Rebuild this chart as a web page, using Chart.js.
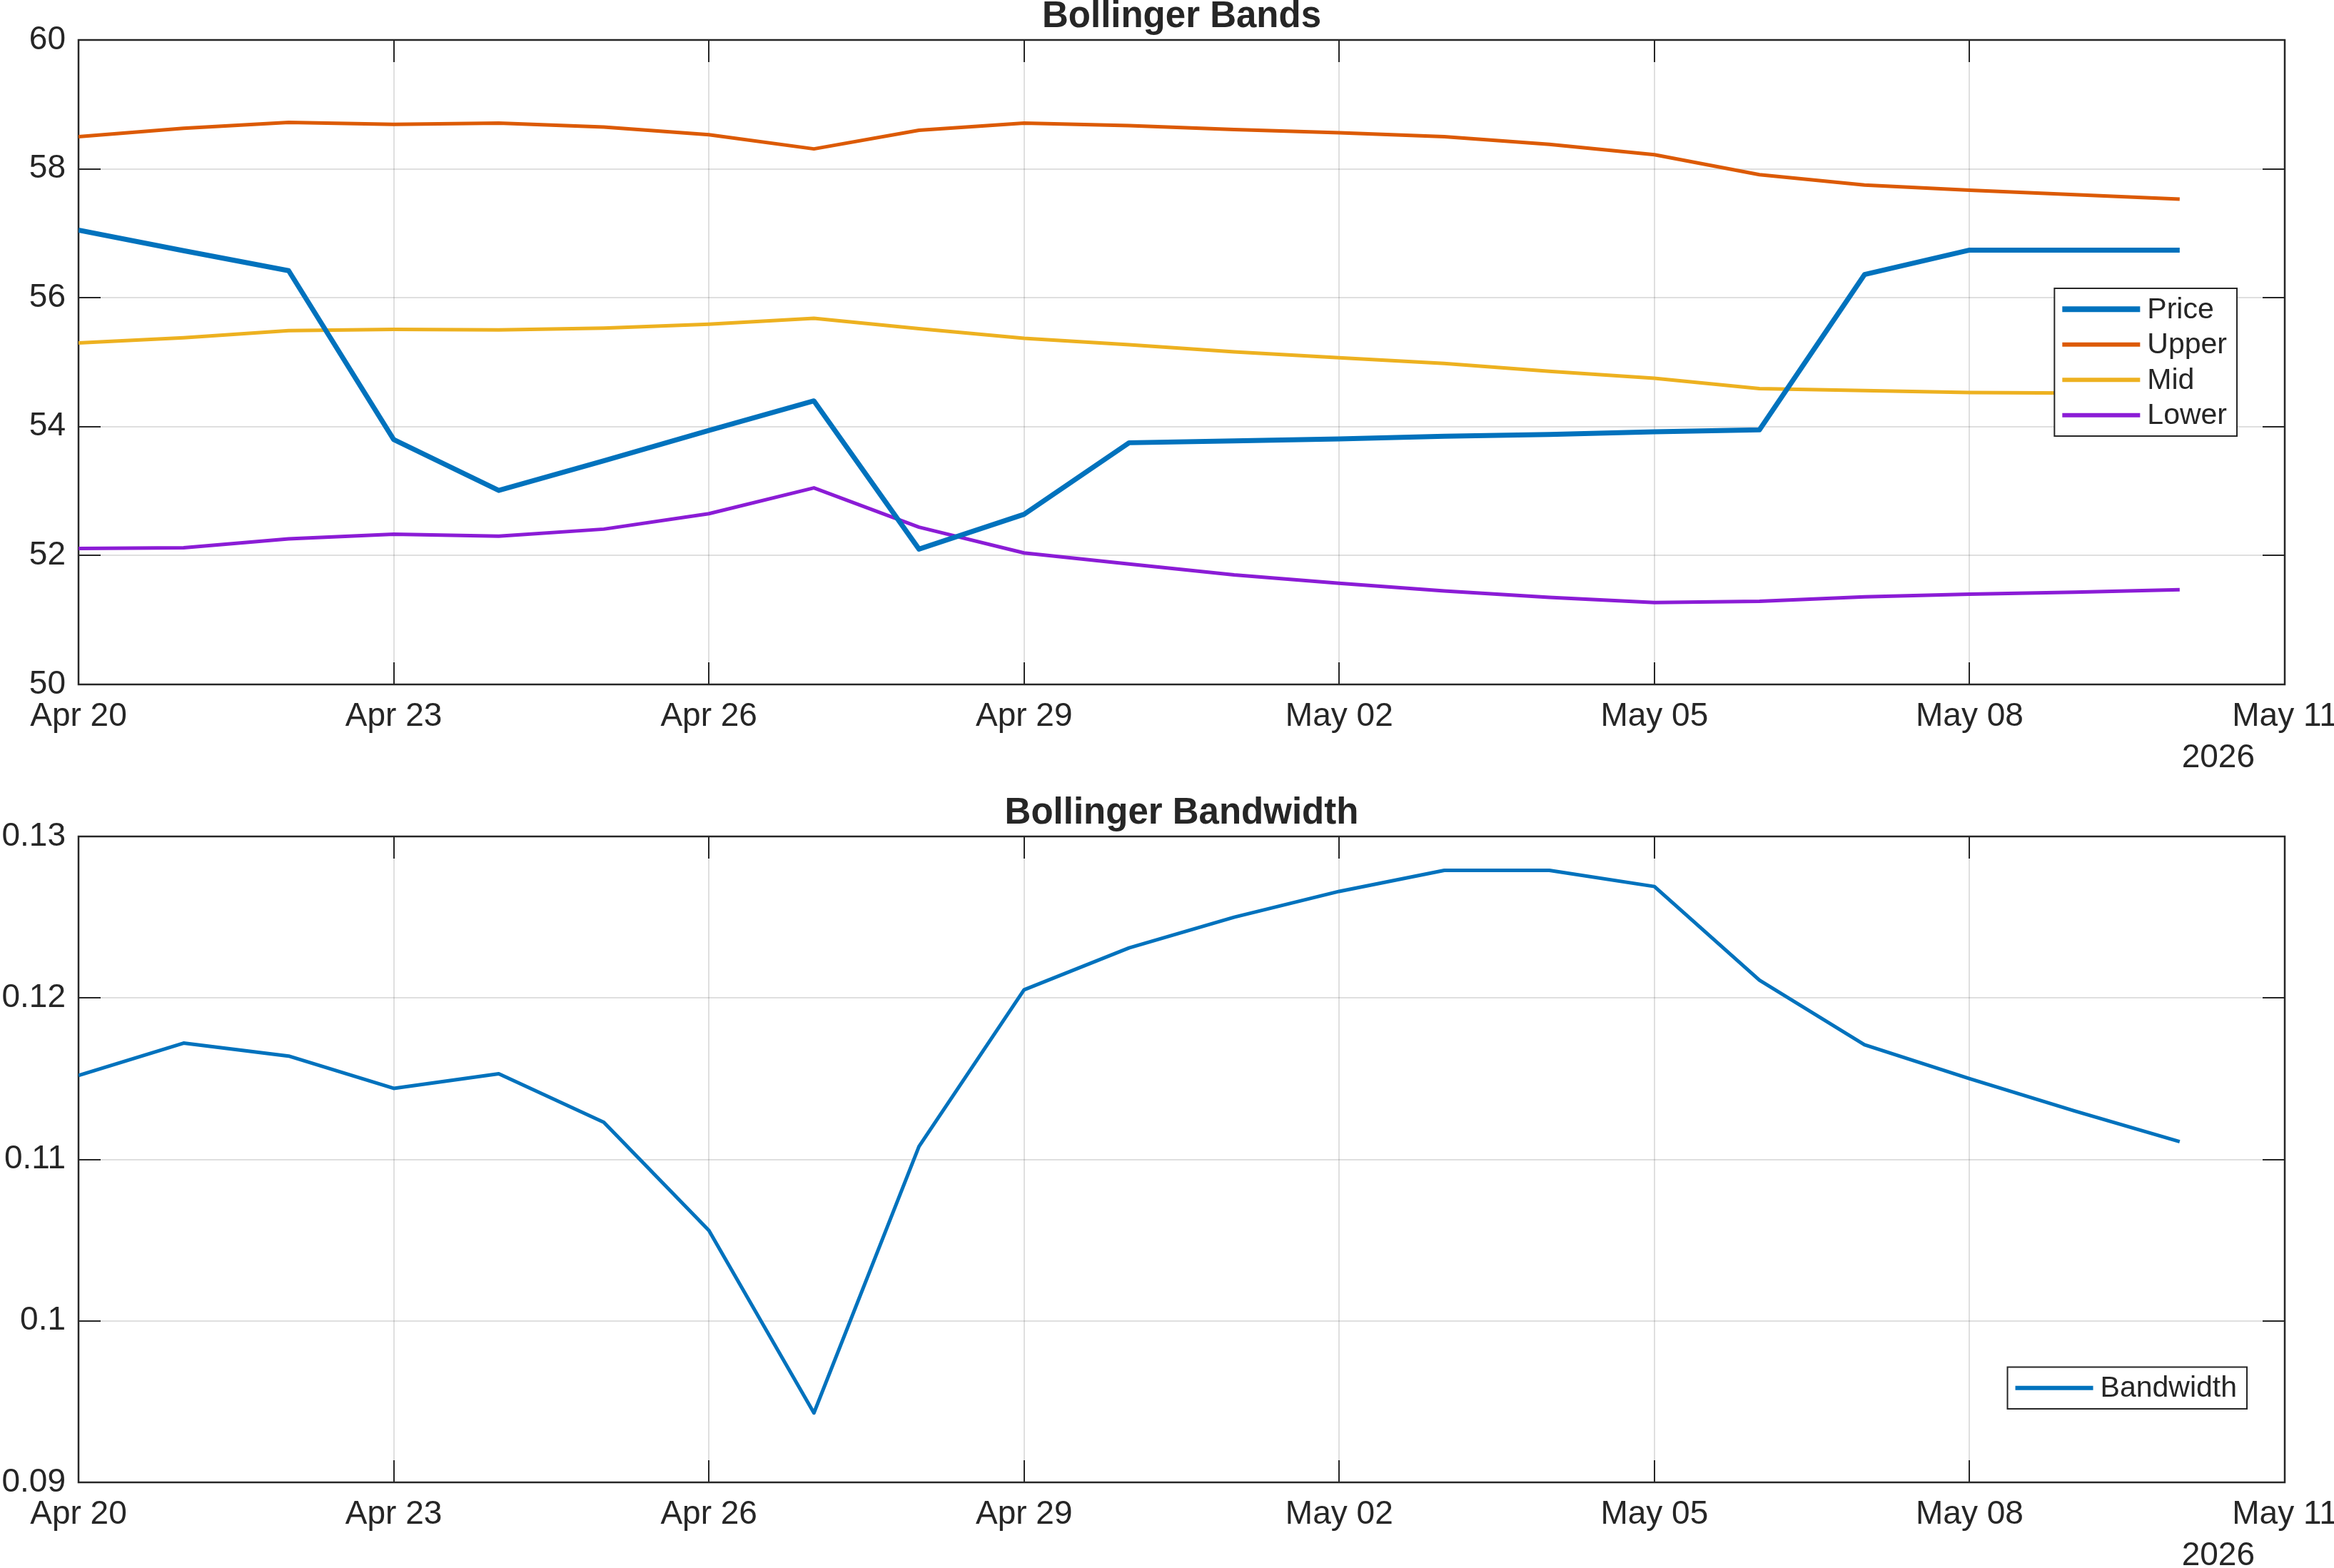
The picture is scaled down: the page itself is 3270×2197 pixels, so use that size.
<!DOCTYPE html>
<html><head><meta charset="utf-8">
<script src="https://cdn.jsdelivr.net/npm/chart.js@4.4.1/dist/chart.umd.min.js"></script>
<style>
html,body{margin:0;padding:0;background:#fff;}
#wrap{position:relative;width:3270px;height:2197px;background:#fff;}
canvas{position:absolute;left:0;display:block;}
</style></head><body>
<div id="wrap">
<canvas id="c1" width="3270" height="1098" style="top:0px"></canvas>
<canvas id="c2" width="3270" height="1099" style="top:1098px"></canvas>
</div>
<script>
// ---------- data ----------
const dates = ['2026-04-20','2026-04-21','2026-04-22','2026-04-23','2026-04-24','2026-04-25','2026-04-26',
  '2026-04-27','2026-04-28','2026-04-29','2026-04-30','2026-05-01','2026-05-02','2026-05-03','2026-05-04',
  '2026-05-05','2026-05-06','2026-05-07','2026-05-08','2026-05-09','2026-05-10'];
const price = [57.05,56.73,56.42,53.80,53.01,53.47,53.94,54.40,52.10,52.64,53.75,53.78,53.81,53.85,53.88,53.92,53.95,56.36,56.74,56.74,56.74];
const upper = [58.50,58.63,58.72,58.69,58.71,58.65,58.53,58.31,58.60,58.71,58.67,58.61,58.56,58.50,58.38,58.22,57.91,57.75,57.67,57.60,57.53];
const mid   = [55.30,55.38,55.49,55.51,55.50,55.53,55.59,55.68,55.52,55.37,55.27,55.16,55.07,54.98,54.86,54.75,54.59,54.56,54.53,54.52,54.50];
const lower = [52.11,52.12,52.26,52.33,52.30,52.41,52.65,53.05,52.44,52.04,51.87,51.70,51.57,51.45,51.35,51.27,51.29,51.36,51.40,51.43,51.47];
const bandwidth = [0.1152,0.1172,0.1164,0.1144,0.1153,0.1123,0.1056,0.0943,0.1108,0.1205,0.1231,0.1250,0.1266,0.1279,0.1279,0.1269,0.1211,0.1171,0.1150,0.1130,0.1111];

const xStart = '2026-04-20';
const xTickDates = ['2026-04-20','2026-04-23','2026-04-26','2026-04-29','2026-05-02','2026-05-05','2026-05-08','2026-05-11'];
const xTickLabels = ['Apr 20','Apr 23','Apr 26','Apr 29','May 02','May 05','May 08','May 11'];
const yearLabel = '2026';
const priceTicks = [50,52,54,56,58,60];
const priceTickLabels = ['50','52','54','56','58','60'];
const bwTicks = [0.09,0.10,0.11,0.12,0.13];
const bwTickLabels = ['0.09','0.1','0.11','0.12','0.13'];

// ---------- helpers ----------
const DAY = 86400000;
const dayOf = d => Math.round((Date.parse(d + 'T00:00:00Z') - Date.parse(xStart + 'T00:00:00Z')) / DAY);
const xTickValues = xTickDates.map(dayOf);
const pts = arr => arr.map((v, i) => ({x: dayOf(dates[i]), y: v}));

const FONT = '"Liberation Sans", Arial, Helvetica, sans-serif';
const TXT = '#262626';
Chart.defaults.font.family = FONT;
Chart.defaults.color = TXT;

const boxPlugin = {
  id: 'bbBox',
  beforeDatasetsDraw(chart) {
    const {ctx, chartArea: ca} = chart;
    const x = chart.scales.x, y = chart.scales.y;
    const L = 31;
    ctx.save();
    ctx.strokeStyle = TXT;
    ctx.lineWidth = 2;
    ctx.beginPath();
    x.ticks.forEach(t => {
      const px = Math.round(x.getPixelForValue(t.value));
      ctx.moveTo(px, ca.bottom); ctx.lineTo(px, ca.bottom - L);
      ctx.moveTo(px, ca.top); ctx.lineTo(px, ca.top + L);
    });
    y.ticks.forEach(t => {
      const py = Math.round(y.getPixelForValue(t.value));
      ctx.moveTo(ca.left, py); ctx.lineTo(ca.left + L, py);
      ctx.moveTo(ca.right, py); ctx.lineTo(ca.right - L, py);
    });
    ctx.stroke();
    ctx.lineWidth = 2.5;
    ctx.strokeRect(ca.left, ca.top, ca.right - ca.left, ca.bottom - ca.top);
    ctx.restore();
  },
  afterDraw(chart, args, opts) {
    const {ctx, chartArea: ca} = chart;
    ctx.save();
    ctx.fillStyle = TXT;
    ctx.font = 'bold 51px ' + FONT;
    ctx.textAlign = 'center';
    ctx.textBaseline = 'alphabetic';
    ctx.fillText(opts.title, (ca.left + ca.right) / 2, ca.top - 18);
    ctx.font = '46px ' + FONT;
    ctx.textAlign = 'right';
    ctx.fillText(yearLabel, ca.right - 42, ca.bottom + 116);
    ctx.restore();
  }
};

const legendPlugin = {
  id: 'bbLegend',
  afterDatasetsDraw(chart, args, opts) {
    const {ctx, chartArea: ca} = chart;
    const items = chart.data.datasets.map(d => ({label: d.label, color: d.borderColor, lw: d.legendWidth}));
    ctx.save();
    ctx.font = '41px ' + FONT;
    const tw = Math.max(...items.map(i => ctx.measureText(i.label).width));
    const w = 130 + tw + 14;
    const rowH = 49.5;
    const h = items.length * rowH + 9;
    const left = ca.right - opts.dx - w;
    const top = opts.anchor === 'east' ? (ca.top + ca.bottom) / 2 - h / 2 : ca.bottom - opts.dy - h;
    ctx.fillStyle = '#ffffff';
    ctx.fillRect(left, top, w, h);
    ctx.strokeStyle = TXT;
    ctx.lineWidth = 2;
    ctx.strokeRect(left, top, w, h);
    items.forEach((it, i) => {
      const cy = top + 4.5 + rowH * (i + 0.5);
      ctx.strokeStyle = it.color;
      ctx.lineWidth = it.lw;
      ctx.beginPath();
      ctx.moveTo(left + 11, cy); ctx.lineTo(left + 120, cy);
      ctx.stroke();
      ctx.fillStyle = TXT;
      ctx.textAlign = 'left';
      ctx.textBaseline = 'middle';
      ctx.fillText(it.label, left + 130, cy + 1);
    });
    ctx.restore();
  }
};

function makeOptions(yTicks, yLabels, xHeight, title, legendOpts, padTop) {
  return {
    responsive: false,
    animation: false,
    devicePixelRatio: 1,
    layout: {padding: {left: 0, right: 69, top: padTop, bottom: 0}},
    plugins: {
      legend: {display: false},
      title: {display: false},
      tooltip: {enabled: false},
      bbBox: {title: title},
      bbLegend: legendOpts
    },
    elements: {point: {radius: 0}, line: {tension: 0, borderJoinStyle: 'round', borderCapStyle: 'butt'}},
    scales: {
      x: {
        type: 'linear',
        min: xTickValues[0],
        max: xTickValues[xTickValues.length - 1],
        afterBuildTicks: s => { s.ticks = xTickValues.map(v => ({value: v})); },
        afterFit: s => { s.height = xHeight; s.paddingLeft = 0; s.paddingRight = 0; },
        ticks: {
          autoSkip: false, maxRotation: 0, minRotation: 0, padding: 18,
          font: {size: 46, lineHeight: 1.2}, color: TXT,
          callback: (v, i) => xTickLabels[i]
        },
        grid: {color: 'rgba(38,38,38,0.15)', lineWidth: 2, drawTicks: false},
        border: {display: false}
      },
      y: {
        type: 'linear',
        min: yTicks[0],
        max: yTicks[yTicks.length - 1],
        afterBuildTicks: s => { s.ticks = yTicks.map(v => ({value: v})); },
        afterFit: s => { s.width = 110; s.paddingTop = 0; s.paddingBottom = 0; },
        ticks: {
          autoSkip: false, padding: 18,
          font: {size: 46, lineHeight: 1.2}, color: TXT,
          callback: (v, i) => yLabels[i]
        },
        grid: {color: 'rgba(38,38,38,0.15)', lineWidth: 2, drawTicks: false},
        border: {display: false}
      }
    }
  };
}

new Chart(document.getElementById('c1'), {
  type: 'line',
  data: {
    datasets: [
      {label: 'Price', data: pts(price), borderColor: '#0072BD', borderWidth: 7, legendWidth: 8, fill: false},
      {label: 'Upper', data: pts(upper), borderColor: '#DC5A05', borderWidth: 5, legendWidth: 6, fill: false},
      {label: 'Mid',   data: pts(mid),   borderColor: '#EDB120', borderWidth: 5, legendWidth: 6, fill: false},
      {label: 'Lower', data: pts(lower), borderColor: '#8B1CD6', borderWidth: 5, legendWidth: 6, fill: false}
    ]
  },
  options: makeOptions(priceTicks, priceTickLabels, 139, 'Bollinger Bands', {anchor: 'east', dx: 67}, 56),
  plugins: [boxPlugin, legendPlugin]
});

new Chart(document.getElementById('c2'), {
  type: 'line',
  data: {
    datasets: [
      {label: 'Bandwidth', data: pts(bandwidth), borderColor: '#0072BD', borderWidth: 5, legendWidth: 6, fill: false}
    ]
  },
  options: makeOptions(bwTicks, bwTickLabels, 120, 'Bollinger Bandwidth', {anchor: 'southeast', dx: 53, dy: 103}, 74),
  plugins: [boxPlugin, legendPlugin]
});
</script>
</body></html>
